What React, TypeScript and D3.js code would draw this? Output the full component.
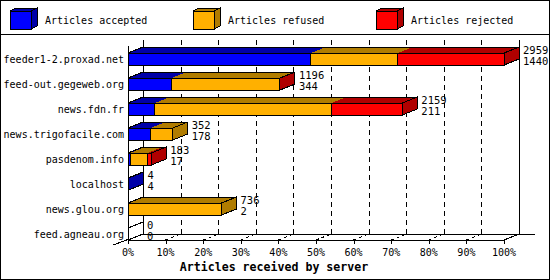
import React from 'react';
import * as d3 from 'd3';

const categories = [
  'feeder1-2.proxad.net',
  'feed-out.gegeweb.org',
  'news.fdn.fr',
  'news.trigofacile.com',
  'pasdenom.info',
  'localhost',
  'news.glou.org',
  'feed.agneau.org',
];
const accepted = [1440, 344, 211, 178, 17, 4, 2, 0];
const refused = [684, 848, 1389, 174, 136, 0, 734, 0];
const rejected = [835, 4, 559, 0, 30, 0, 0, 0];
const totals = [2959, 1196, 2159, 352, 183, 4, 736, 0];
const seriesKeys = ['accepted', 'refused', 'rejected'];
const seriesNames = ['Articles accepted', 'Articles refused', 'Articles rejected'];
const percentTicks = [0, 10, 20, 30, 40, 50, 60, 70, 80, 90, 100];
const xTitle = 'Articles received by server';

const frontColors = ['#0000FF', '#FFB000', '#FF0000'];
const darkColors = ['#0000A8', '#B07C00', '#B00000'];

const W = 550;
const H = 280;
const DX = 15;
const DY = -6;
const FONT = "'DejaVu Sans Mono', 'Liberation Mono', monospace";

export default function App() {
  const rows = categories.map((c, i) => ({
    cat: c,
    accepted: accepted[i],
    refused: refused[i],
    rejected: rejected[i],
  }));
  const stacked = d3.stack<any>().keys(seriesKeys)(rows);
  const x = d3.scaleLinear().domain([0, d3.max(totals) as number]).range([128, 504]);
  const px = d3.scaleLinear().domain([0, 100]).range([128, 504]);
  const y = d3.scalePoint().domain(categories).range([59, 234]);
  const frontBottom = 240;
  const backTop = 40;
  const backBottom = frontBottom + DY;
  const backLeft = px(0) + DX;
  const backRight = px(100) + DX;

  const bars = categories.map((c, i) => {
    const yc = y(c) as number;
    const top = yc - 6;
    const bot = yc + 6;
    const segs = stacked
      .map((s, k) => ({ k, x0: x(s[i][0]), x1: x(s[i][1]), v: s[i][1] - s[i][0] }))
      .filter((s) => s.v > 0);
    const xEnd = x(totals[i]);
    const xStart = x(0);
    const lastK = segs.length ? segs[segs.length - 1].k : -1;
    return (
      <g key={c}>
        {segs.map((s) => (
          <polygon
            key={'t' + s.k}
            points={`${s.x0},${top} ${s.x1},${top} ${s.x1 + DX},${top + DY} ${s.x0 + DX},${top + DY}`}
            fill={darkColors[s.k]}
            stroke="none"
          />
        ))}
        {segs.length > 0 && (
          <polygon
            points={`${xStart},${top} ${xEnd},${top} ${xEnd + DX},${top + DY} ${xStart + DX},${top + DY}`}
            fill="none"
            stroke="#000"
          />
        )}
        {segs.map((s) => (
          <rect
            key={'f' + s.k}
            x={s.x0}
            y={top}
            width={Math.max(s.x1 - s.x0, 0.5)}
            height={bot - top}
            fill={frontColors[s.k]}
            stroke="#000"
          />
        ))}
        <polygon
          points={`${xEnd},${top} ${xEnd + DX},${top + DY} ${xEnd + DX},${bot + DY} ${xEnd},${bot}`}
          fill={lastK >= 0 ? darkColors[lastK] : '#fff'}
          stroke="#000"
        />
        <text x={xEnd + DX + 4} y={yc - 9.5} dominantBaseline="central" fontSize={10.5} fontFamily={FONT}>
          {totals[i]}
        </text>
        <text x={xEnd + DX + 4} y={yc + 1.5} dominantBaseline="central" fontSize={10.5} fontFamily={FONT}>
          {accepted[i]}
        </text>
        <text x={124} y={yc} dominantBaseline="central" textAnchor="end" fontSize={10} fontFamily={FONT}>
          {c}
        </text>
      </g>
    );
  });

  return (
    <svg
      width={W}
      height={H}
      style={{ position: 'absolute', left: 0, top: 0, background: '#fff' }}
      shapeRendering="crispEdges"
    >
      <rect x={0} y={0} width={W} height={H} fill="#fff" />
      <rect x={0.5} y={0.5} width={W - 1} height={H - 1} fill="none" stroke="#000" />
      <line x1={0} x2={W} y1={34.5} y2={34.5} stroke="#000" />

      {/* legend */}
      {seriesNames.map((n, k) => {
        const lx = 10 + k * 183;
        const ly = 11;
        const bw = 21;
        const bh = 18;
        const ddx = 6;
        const ddy = -3;
        return (
          <g key={n}>
            <polygon
              points={`${lx},${ly} ${lx + bw},${ly} ${lx + bw + ddx},${ly + ddy} ${lx + ddx},${ly + ddy}`}
              fill={darkColors[k]}
              stroke="#000"
            />
            <polygon
              points={`${lx + bw},${ly} ${lx + bw + ddx},${ly + ddy} ${lx + bw + ddx},${ly + bh + ddy} ${lx + bw},${ly + bh}`}
              fill={darkColors[k]}
              stroke="#000"
            />
            <rect x={lx} y={ly} width={bw} height={bh} fill={frontColors[k]} stroke="#000" />
            <text x={lx + 35} y={ly + 9} dominantBaseline="central" fontSize={10} fontFamily={FONT}>
              {n}
            </text>
          </g>
        );
      })}

      {/* back wall grid */}
      {percentTicks
        .filter((t) => t > 0 && t < 100)
        .map((t) => (
          <line
            key={'g' + t}
            x1={Math.round(px(t) + DX) + 0.5}
            x2={Math.round(px(t) + DX) + 0.5}
            y1={backTop}
            y2={backBottom}
            stroke="#000"
            strokeDasharray="5,4"
          />
        ))}
      <line x1={backLeft + 0.5} x2={backLeft + 0.5} y1={backTop} y2={backBottom} stroke="#000" />
      <line x1={backRight + 0.5} x2={backRight + 0.5} y1={backTop} y2={backBottom} stroke="#000" />
      <line x1={backLeft} x2={535} y1={backBottom + 0.5} y2={backBottom + 0.5} stroke="#000" />

      {/* floor */}
      <line x1={px(0) - 15} y1={frontBottom + 5} x2={backLeft} y2={backBottom} stroke="#000" />
      <line x1={px(100)} y1={frontBottom} x2={backRight} y2={backBottom} stroke="#000" />
      {percentTicks
        .filter((t) => t > 0 && t < 100)
        .map((t) => (
          <line
            key={'d' + t}
            x1={px(t)}
            y1={frontBottom}
            x2={px(t) + DX}
            y2={backBottom}
            stroke="#000"
            strokeDasharray="3,3"
          />
        ))}

      {bars}

      {/* front axes */}
      <line x1={px(0) + 0.5} x2={px(0) + 0.5} y1={46} y2={frontBottom + 3} stroke="#000" />
      <line x1={px(0)} x2={px(100)} y1={frontBottom + 0.5} y2={frontBottom + 0.5} stroke="#000" />
      {percentTicks.map((t) => (
        <g key={'t' + t}>
          <line
            x1={Math.round(px(t)) + 0.5}
            x2={Math.round(px(t)) + 0.5}
            y1={frontBottom}
            y2={frontBottom + 4}
            stroke="#000"
          />
          <text x={px(t)} y={256} textAnchor="middle" fontSize={10} fontFamily={FONT}>
            {t}%
          </text>
        </g>
      ))}
      <text
        x={274}
        y={271}
        textAnchor="middle"
        fontSize={11.6}
        fontWeight="bold"
        fontFamily={FONT}
      >
        {xTitle}
      </text>
    </svg>
  );
}
